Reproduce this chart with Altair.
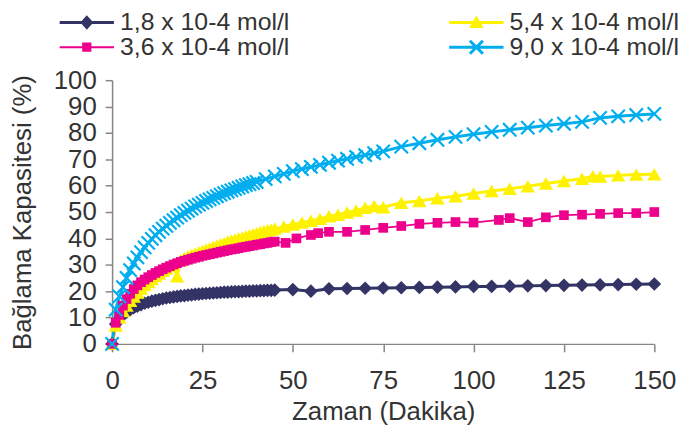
import altair as alt
import pandas as pd

series_names = ["1,8 x 10-4 mol/l", "3,6 x 10-4 mol/l", "5,4 x 10-4 mol/l", "9,0 x 10-4 mol/l"]
series_colors = ["#333366", "#EC008C", "#FFF200", "#00AEEF"]
legend_rows = [["1,8 x 10-4 mol/l", "5,4 x 10-4 mol/l"], ["3,6 x 10-4 mol/l", "9,0 x 10-4 mol/l"]]

x_ticks = [0, 25, 50, 75, 100, 125, 150]
y_ticks = [0, 10, 20, 30, 40, 50, 60, 70, 80, 90, 100]

# 1,8 x 10-4 mol/l
t_18 = list(range(0, 46)) + [50, 55, 60, 65, 70, 75, 80, 85, 90, 95, 100, 105, 110, 115, 120, 125, 130, 135, 140, 145, 150]
v_18 = [0, 7.5, 9.5, 11.0, 12.0, 13.0, 13.7, 14.3, 14.9, 15.4, 15.8, 16.2, 16.5, 16.8, 17.1, 17.4,
        17.6, 17.8, 18.0, 18.2, 18.3, 18.5, 18.6, 18.8, 18.9, 19.0, 19.1, 19.2, 19.3, 19.4, 19.5,
        19.6, 19.6, 19.7, 19.8, 19.8, 19.9, 20.0, 20.0, 20.1, 20.1, 20.2, 20.2, 20.3, 20.3, 20.4,
        20.6, 20.0, 20.9, 21.0, 21.1, 21.2, 21.3, 21.4, 21.5, 21.6, 21.8, 21.8, 21.9, 22.0, 22.1,
        22.2, 22.3, 22.4, 22.5, 22.6, 22.7]

# 3,6 x 10-4 mol/l
t_36 = list(range(0, 46)) + [48, 51, 55, 57, 60, 65, 70, 75, 80, 85, 90, 95, 100, 107, 110, 115, 120, 125, 130, 135, 140, 145, 150]
v_36 = [0, 8.0, 11.0, 14.5, 17.0, 19.0, 20.8, 22.2, 23.4, 24.4, 25.3, 26.1, 26.9, 27.6, 28.3, 28.9,
        29.5, 30.1, 30.6, 31.1, 31.5, 31.9, 32.3, 32.7, 33.0, 33.4, 33.7, 34.0, 34.3, 34.6, 34.9,
        35.2, 35.5, 35.8, 36.0, 36.3, 36.6, 36.8, 37.1, 37.3, 37.6, 37.8, 38.1, 38.3, 38.6, 38.8,
        38.3, 40.0, 41.3, 42.0, 42.5, 42.5, 43.2, 44.0, 44.7, 45.5, 45.9, 46.2, 46.0, 47.0, 47.7,
        46.2, 48.0, 48.8, 49.0, 49.3, 49.6, 49.6, 50.0]

# 5,4 x 10-4 mol/l
t_54 = list(range(0, 46)) + [47.5, 50, 52.5, 55, 57.5, 60, 62.5, 65, 67.5, 70, 72.5, 75, 80, 85, 90, 95, 100, 105, 110, 115, 120, 125, 130, 133, 135, 140, 145, 150]
v_54 = [0, 7.0, 10.0, 12.5, 14.5, 16.3, 18.0, 19.5, 21.0, 22.3, 23.5, 24.6, 25.7, 26.7, 27.7, 28.6,
        29.5, 30.3, 25.6, 31.8, 32.6, 33.2, 33.8, 34.3, 34.8, 35.3, 35.8, 36.3, 36.8, 37.3, 37.8,
        38.3, 38.8, 39.2, 39.6, 40.0, 40.4, 40.8, 41.2, 41.6, 42.0, 42.4, 42.8, 43.1, 43.4, 43.7,
        44.5, 45.3, 46.0, 46.7, 47.4, 48.4, 49.0, 49.8, 50.6, 51.6, 52.3, 51.8, 53.5, 54.2, 55.2,
        56.0, 57.0, 58.0, 58.8, 59.8, 60.8, 61.8, 62.6, 63.6, 63.5, 63.9, 64.2, 64.3]

# 9,0 x 10-4 mol/l
t_90 = list(range(0, 41)) + [42.5, 45, 47.5, 50, 52.5, 55, 57.5, 60, 62.5, 65, 67.5, 70, 72.5, 75, 80, 85, 90, 95, 100, 105, 110, 115, 120, 125, 130, 135, 140, 145, 150]
v_90 = [0, 13.0, 18.0, 21.5, 25.0, 28.0, 30.5, 32.8, 34.8, 36.6, 38.3, 39.8, 41.2, 42.5, 43.7, 44.8,
        45.9, 46.9, 47.9, 48.8, 49.7, 50.5, 51.3, 52.1, 52.8, 53.5, 54.2, 54.8, 55.4, 56.0, 56.6,
        57.2, 57.7, 58.2, 58.7, 59.2, 59.7, 60.2, 60.6, 61.0, 61.4,
        62.5, 63.5, 64.5, 65.5, 66.3, 67.1, 67.9, 68.7, 69.5, 70.2, 70.9, 71.6, 72.3, 73.0,
        74.8, 76.1, 77.4, 78.5, 79.5, 80.4, 81.2, 82.0, 82.8, 83.5, 84.2, 85.7, 86.3, 86.8, 87.2]

rows = []
for name, ts, vs in zip(series_names, [t_18, t_36, t_54, t_90], [v_18, v_36, v_54, v_90]):
    for t, v in zip(ts, vs):
        rows.append({"series": name, "t": t, "v": v})
df = pd.DataFrame(rows)

FONT = "Liberation Sans"
TXT = "#333333"
AX = "#868686"

x_enc = alt.X("t:Q", scale=alt.Scale(domain=[0, 150], nice=False),
              axis=alt.Axis(values=x_ticks, title="Zaman (Dakika)", tickSize=8, labelPadding=16,
                            titlePadding=5, labelFlush=False))
y_enc = alt.Y("v:Q", scale=alt.Scale(domain=[0, 100], nice=False),
              axis=alt.Axis(values=y_ticks, title="Bağlama Kapasitesi (%)", tickSize=7,
                            labelPadding=9, titlePadding=18))

X_PATH = "M-1,-1L1,1M-1,1L1,-1"
marker_shapes = ["diamond", "square", "triangle-up", X_PATH]
marker_sizes = [190, 95, 210, 180]
line_widths = [3, 1.8, 3, 3]

layers = []
draw_order = [0, 2, 1, 3]
for i in draw_order:
    name = series_names[i]
    base = alt.Chart(df).transform_filter(alt.datum.series == name)
    layers.append(base.mark_line(color=series_colors[i], strokeWidth=line_widths[i]).encode(x=x_enc, y=y_enc))
for i in draw_order:
    name = series_names[i]
    base = alt.Chart(df).transform_filter(alt.datum.series == name)
    if i == 3:
        pts = base.mark_point(shape=marker_shapes[i], size=marker_sizes[i], filled=False,
                              color=series_colors[i], strokeWidth=2.2, opacity=1)
    else:
        pts = base.mark_point(shape=marker_shapes[i], size=marker_sizes[i], filled=True,
                              color=series_colors[i], strokeWidth=0, opacity=1)
    layers.append(pts.encode(x=x_enc, y=y_enc))

# legend symbols: line + marker drawn as one filled path (unit = sqrt(size)/2 px)
def line_rect(h):
    return f"M-1,{-h}H1V{h}H-1Z"

def diamond(r, ry):
    return f"M{-r},0L0,{-ry}L{r},0L0,{ry}Z"

def square(r):
    return f"M{-r},{-r}H{r}V{r}H{-r}Z"

def tri(r, top, bot):
    return f"M0,{top}L{r},{bot}L{-r},{bot}Z"

def xmark(a, e):
    b1 = f"M{-a+e},{-a-e}L{a+e},{a-e}L{a-e},{a+e}L{-a-e},{-a+e}Z"
    b2 = f"M{-a-e},{a-e}L{a-e},{-a-e}L{a+e},{-a+e}L{-a+e},{a+e}Z"
    return b1 + b2

legend_paths = {
    series_names[0]: line_rect(0.055) + diamond(0.24, 0.27),
    series_names[1]: line_rect(0.035) + square(0.17),
    series_names[2]: line_rect(0.055) + tri(0.27, -0.26, 0.2),
    series_names[3]: line_rect(0.055) + xmark(0.24, 0.04),
}

legend_y = [-86, -61]
for r, row in enumerate(legend_rows):
    leg = alt.Legend(title=None, orient="none", legendX=-53, legendY=legend_y[r], columns=2,
                     direction="horizontal", columnPadding=161, labelFont=FONT, labelFontSize=25,
                     labelColor=TXT, symbolSize=3000, labelOffset=6, symbolStrokeWidth=0,
                     padding=0, labelLimit=400)
    field = f"leg{r}"
    legend_layer = alt.Chart(df).transform_filter("datum.t < 0").transform_calculate(
        **{field: "datum.series"}
    ).mark_point(filled=True, opacity=1).encode(
        color=alt.Color(f"{field}:N", scale=alt.Scale(domain=row,
                                                      range=[series_colors[series_names.index(s)] for s in row]),
                        legend=leg),
        shape=alt.Shape(f"{field}:N", scale=alt.Scale(domain=row,
                                                      range=[legend_paths[s] for s in row]),
                        legend=leg),
    )
    layers.append(legend_layer)

chart = alt.layer(*layers).resolve_scale(color="independent", shape="independent").properties(
    width=547, height=266,
    autosize=alt.AutoSizeParams(type="none"),
    padding={"left": 105, "top": 71, "right": 37, "bottom": 80},
).configure_view(stroke=None).configure_axis(
    grid=False, domainColor=AX, tickColor=AX, domainWidth=1.5, tickWidth=1.5,
    labelFont=FONT, labelFontSize=26, labelColor=TXT,
    titleFont=FONT, titleFontSize=26, titleFontWeight="normal", titleColor=TXT,
)

chart.save("out.html", embed_options={"renderer": "svg", "actions": False})
